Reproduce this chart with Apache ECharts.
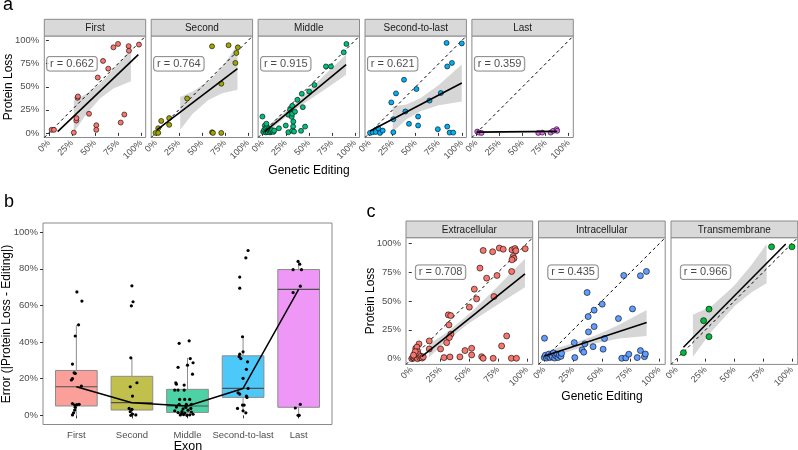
<!DOCTYPE html>
<html><head><meta charset="utf-8">
<script src="https://cdn.jsdelivr.net/npm/echarts@6/dist/echarts.min.js"></script>
<style>html,body{margin:0;padding:0;background:#fff}#c{width:798px;height:450px}</style>
</head><body><div id="c"></div>
<script>
// ---------------- DATA ----------------
const pctTicks = [0, 25, 50, 75, 100];
const errTicks = [0, 20, 40, 60, 80, 100];

// Panel a facets
const aNames = ['First', 'Second', 'Middle', 'Second-to-last', 'Last'];
const aColors = ['#F8766D', '#A3A500', '#00BF7D', '#00B0F6', '#E76BF3'];
const aR = ['r = 0.662', 'r = 0.764', 'r = 0.915', 'r = 0.621', 'r = 0.359'];

const firstPts = [[3,3.3],[5.5,3.3],[27,0.3],[29.7,13.4],[29.9,16],[31,38],[31.5,39.5],[43.5,20.7],[51.4,8.3],[51.4,3.3],[53,60],[58.7,78],[64.4,69.6],[70,92.7],[75,96.4],[77.9,11.2],[81.8,19.9],[86.5,94],[86.8,89],[97.7,95.7]];
const firstFit = [[9.5,1.4],[97,84.8]];
const firstBand = [[27,0.6,35],[40,19.5,42],[55,37,53],[70,48,69],[89,56,90]];

const secondPts = [[-0.3,0],[2.6,0],[2.6,5],[5.9,13],[14.5,16],[14.5,8.7],[34,37.3],[61,93.8],[61,0.7],[62,0],[71,53.3],[71,0],[78.9,95],[86.3,75.8],[87.4,86.6],[89,92.7]];
const secondFit = [[1.2,3.3],[88.6,69.6]];
const secondBand = [[26.5,3.3,38.8],[40,20.8,44.8],[57,35.7,55.7],[72,43,71],[88.6,46.7,95.6]];

const middlePts = [[-0.3,17.7],[0.5,1],[1.5,3],[2.3,8],[3,5],[3.5,0.5],[4.5,2],[5,6],[5.5,1],[6.5,4],[7,2.5],[8,0.5],[9,1.5],[10,3],[11.5,1],[12.5,2.5],[4,10],[17.6,5],[25,8],[27.8,0.7],[27.8,19.6],[29.6,25],[31.5,17.4],[32,20.7],[32,29.3],[32,2.3],[33,7],[33.2,12.3],[35,23],[34,1.4],[37.6,35.9],[41.6,2.2],[42.4,42.4],[43.5,27.9],[46,6.8],[50.4,44.9],[56,52],[68.6,72],[74,72],[87.9,87.3],[90.8,96.4]];
const middleFit = [[2.3,1.4],[90.5,73.9]];
const middleBand = [[5,0.1,7.1],[25,17.1,23.1],[45,32,41],[65,45.5,60.5],[90.5,62.9,84.9]];

const stlPts = [[0.4,0],[3.3,0.7],[6.6,1],[9.5,5],[11.3,0],[14.2,2.5],[25.7,0.7],[25.7,14.8],[23.5,33],[28.6,42.8],[37.3,57.6],[38.8,23.2],[42.7,9.8],[50.8,47.5],[52.6,17.7],[52.6,8],[65,35],[74,4],[77.3,43.2],[83.5,97.5],[84.2,72],[84.2,6.8],[86.8,0.3],[90.7,0.3],[89.3,75.8],[100,97]];
const stlFit = [[0.5,2],[100,54]];
const stlBand = [[25,1,28.6],[40,14.7,30.7],[55,23.5,37.5],[75,30,52],[100,34,74]];

const lastPts = [[0.8,1.4],[2.9,0.3],[5.5,0],[67,0],[71.3,0.3],[80.4,0.3],[83.2,2.2],[86.9,4],[87.5,2.2]];
const lastFit = [[0.3,0.8],[87.5,1.6]];
const lastBand = [];

// Panel b
const exonCats = ['First', 'Second', 'Middle', 'Second-to-last', 'Last'];
const boxFills = ['#FA9F99', '#C2C04C', '#4CD2A4', '#4CC8F9', '#EE97F7'];
// [min, Q1, median, Q3, max]
const boxStats = [[0.2,5.1,15.6,24.5,49.4],[0,2.9,6.9,21.3,31.4],[0,1.6,5.1,14.2,31.4],[1.4,9.8,14.7,32.5,43.4],[0,4.4,68.8,79.6,84]];
const bFirst = [[1.01,67.4],[1.10,62.4],[1.04,49.4],[0.98,43.3],[0.93,28],[0.96,23.2],[0.98,22.9],[0.93,20],[0.91,19.3],[1.09,16],[0.93,6.4],[0.97,5.6],[1.01,5.8],[1.05,6],[0.98,4.4],[0.97,2.9],[0.95,1.4],[0.93,0.2]];
const bSecond = [[2.0,70.7],[1.99,59.8],[2.02,62],[1.98,31.4],[2.09,17.8],[1.97,15.6],[2.01,10.5],[1.95,3.8],[2.0,3.3],[1.97,2],[2.01,0.7],[2.07,0.2],[1.98,0]];
const bMiddle = [[2.85,39.3],[3.03,40.7],[2.83,26.2],[3.0,27.4],[3.1,28.7],[3.09,22.5],[3.05,31],[2.79,17.8],[2.8,17],[2.94,16.5],[2.94,13.8],[2.77,13.8],[2.83,13.8],[2.86,8.7],[2.95,8.7],[3.04,8.7],[2.85,6],[2.98,6],[3.07,6],[2.77,2.5],[2.83,1.5],[2.89,0.8],[2.95,1.2],[3.01,2.8],[3.04,0.3],[3.07,1.8],[2.92,3.5],[2.99,0],[2.87,0.2],[2.97,4.3],[3.1,0.6],[2.8,4.5],[3.06,3.8],[2.9,2],[2.93,0.4]];
const bSTL = [[3.99,42.9],[3.94,33.4],[4.0,34.7],[3.93,32],[3.96,31],[4.08,29.2],[4.06,25.1],[4.0,20.2],[4.09,14.7],[3.91,12.3],[3.94,11.6],[4.06,10.5],[4.07,9.8],[3.99,5.6],[4.02,5.6],[3.9,3.8],[4.0,2.5],[4.05,1.4],[3.94,75.5],[3.94,69.4],[4.05,86],[4.09,90]];
const bLast = [[4.99,84],[5.02,82.5],[4.9,79.5],[5.05,79.5],[5.03,70.5],[4.9,67],[5.03,6],[4.94,4],[4.99,0],[5.01,0]];

// Panel c facets
const cNames = ['Extracellular', 'Intracellular', 'Transmembrane'];
const cColors = ['#F8766D', '#619CFF', '#00BA38'];
const cR = ['r = 0.708', 'r = 0.435', 'r = 0.966'];

const extraPts = [[62,93.9],[70.2,92.8],[76,96],[79.4,95],[87,94.5],[89.6,95.6],[90.4,93.7],[88,88.7],[88.7,87],[87,85.8],[98.5,95.4],[59.2,78.6],[65,69.9],[74,72.2],[86.7,75.7],[54.3,60.3],[56.3,51.9],[71.4,53.9],[50,44.7],[31.7,38],[33.8,37.4],[32.3,29.3],[34,21.2],[32.6,18.3],[30.3,13.9],[15.2,15.4],[15.2,8.4],[6.3,12.8],[25,8.4],[28,0.9],[33.2,1.5],[41.8,1.5],[46.2,7],[52,9],[52,3.2],[60.7,1.7],[62,0.3],[70.7,0.3],[78,11],[82.4,19.7],[86.5,0.3],[90.9,0.3],[0,0],[1,1],[2,0.5],[2.5,4],[3,1.5],[3.5,9],[4,2.5],[4.5,10],[5,6],[5,0],[6,3.5],[7,0.8],[8,2],[9,0.5],[10,1.5],[3,6],[1.5,3]];
const extraFit = [[8.6,1.7],[98.3,73.7]];
const extraBand = [[15,1,12.6],[30,15.4,22.4],[50,31,39],[70,44,58],[98.3,62,86.7]];

const intraPts = [[0.2,17.7],[0,1],[1,3],[2,0.5],[3,2],[4,4],[5,1],[6,3],[7,1.5],[8,5],[9,0.5],[10,2.5],[11,4],[12,1],[13,3],[14.5,2],[15,4.5],[26,13.9],[26.5,0.9],[32.9,7.6],[34.3,5.6],[35.2,12.8],[37.2,57.4],[38.1,36.5],[38.4,23.2],[42.4,10.4],[43.3,42.1],[43.3,27.8],[50.3,47.3],[51.1,8.2],[52.3,17.4],[64.4,34.8],[67.3,0.3],[70.8,0.6],[73.4,3.8],[76.6,43.2],[80.7,0.9],[83.5,7],[87,1.7],[87.8,4],[69,72.2],[83.5,72],[88.7,75.7]];
const intraFit = [[0.2,2.3],[88.9,31.3]];
const intraBand = [[5,0.4,7.4],[25,7.4,13.4],[45,13.4,20.4],[65,17.4,29.4],[88.9,19.7,42.3]];

const transPts = [[5.8,5.2],[23.3,33],[28,43],[28,19.1],[82.3,97.1],[100,97.1]];
const transFit = [[5.8,9.9],[94.6,99.5]];
const transBand = [[14,1.7,38],[30,23.3,45.3],[50,45.5,63.5],[65,57.6,81.6],[78,65.5,99.5]];

// ---------------- LAYOUT / STYLE ----------------
const FONT = '"Liberation Sans", Arial, Helvetica, sans-serif';
const TICK_COL = '#4d4d4d';
const BORDER = '#8a8a8a';
const aLefts = [44.3, 151.2, 258.1, 365.0, 471.9], aTop = 36, aW = 101.4, aH = 101.5;
const bBox = {left: 43, top: 223, width: 289, height: 201.5};
const cLefts = [406, 538.5, 671], cTop = 237.7, cW = 126.7, cH = 126.7;
const stripH = 16.7;

const aFacets = [
  {pts: firstPts, fit: firstFit, band: firstBand},
  {pts: secondPts, fit: secondFit, band: secondBand},
  {pts: middlePts, fit: middleFit, band: middleBand},
  {pts: stlPts, fit: stlFit, band: stlBand},
  {pts: lastPts, fit: lastFit, band: lastBand}
];
const cFacets = [
  {pts: extraPts, fit: extraFit, band: extraBand},
  {pts: intraPts, fit: intraFit, band: intraBand},
  {pts: transPts, fit: transFit, band: transBand}
];

const grids = [], xAxes = [], yAxes = [], series = [], graphics = [];

function pctAxisX(gi, fs) {
  return {type: 'value', gridIndex: gi, min: -5, max: 105,
    axisLine: {show: false}, splitLine: {show: false},
    axisTick: {show: true, customValues: pctTicks, length: 3, lineStyle: {color: '#333', width: 1}},
    axisLabel: {show: true, customValues: pctTicks, rotate: 45, margin: 4, fontSize: fs, color: TICK_COL, fontFamily: FONT, formatter: v => v + '%'}};
}
function pctAxisY(gi, show, fs) {
  return {type: 'value', gridIndex: gi, min: -5, max: 105,
    axisLine: {show: false}, splitLine: {show: false},
    axisTick: {show: show, customValues: pctTicks, length: 3, lineStyle: {color: '#333', width: 1}},
    axisLabel: {show: show, customValues: pctTicks, margin: 5, fontSize: fs, color: TICK_COL, fontFamily: FONT, formatter: v => v + '%'}};
}

function addFacet(gi, f, color, rText, symSize, fs) {
  if (f.band.length) {
    const band = f.band;
    series.push({type: 'custom', xAxisIndex: gi, yAxisIndex: gi, silent: true, z: 1,
      data: band, encode: {x: 0, y: [1, 2]},
      renderItem: (params, api) => {
        if (params.dataIndex !== 0) return null;
        const top = band.map(d => api.coord([d[0], d[2]]));
        const bot = band.map(d => api.coord([d[0], d[1]])).reverse();
        return {type: 'polygon', shape: {points: top.concat(bot)}, style: {fill: 'rgba(153,153,153,0.4)'}};
      }});
  }
  series.push({type: 'line', xAxisIndex: gi, yAxisIndex: gi, silent: true, z: 2,
    data: [[-5, -5], [105, 105]], symbol: 'none',
    lineStyle: {color: '#000', width: 1, type: [3, 3]}});
  series.push({type: 'scatter', xAxisIndex: gi, yAxisIndex: gi, silent: true, z: 3,
    data: f.pts, symbolSize: symSize,
    itemStyle: {color: color, borderColor: '#000', borderWidth: 0.6, opacity: 1}});
  series.push({type: 'line', xAxisIndex: gi, yAxisIndex: gi, silent: true, z: 4,
    data: f.fit, symbol: 'none', lineStyle: {color: '#000', width: 1.6}});
  series.push({type: 'scatter', xAxisIndex: gi, yAxisIndex: gi, silent: true, z: 5,
    data: [[25, 75]], symbolSize: 1, itemStyle: {color: 'rgba(0,0,0,0)'},
    label: {show: true, position: 'inside', formatter: rText, color: '#1a1a1a', fontSize: fs,
      fontFamily: FONT, backgroundColor: '#fff', borderColor: '#555', borderWidth: 0.8,
      borderRadius: 3, padding: [2, 3, 1, 3]}});
}

function addStrip(left, top, width, text) {
  graphics.push({type: 'rect', shape: {x: left, y: top, width: width, height: stripH},
    style: {fill: '#d9d9d9', stroke: BORDER, lineWidth: 1}, z: 10});
  graphics.push({type: 'text', x: left + width / 2, y: top + stripH / 2 + 0.5, z: 11,
    style: {text: text, fill: '#1a1a1a', font: '10px ' + FONT, align: 'center', verticalAlign: 'middle'}});
}

aLefts.forEach((l, i) => {
  grids.push({left: l, top: aTop, width: aW, height: aH, show: true, borderColor: BORDER, borderWidth: 1, backgroundColor: 'transparent'});
  xAxes.push(pctAxisX(i, 9));
  yAxes.push(pctAxisY(i, i === 0, 9.5));
  addFacet(i, aFacets[i], aColors[i], aR[i], 5, 11);
  addStrip(l, aTop - stripH, aW, aNames[i]);
});

grids.push({left: bBox.left, top: bBox.top, width: bBox.width, height: bBox.height, show: true, borderColor: BORDER, borderWidth: 1, backgroundColor: 'transparent'});
xAxes.push({type: 'value', gridIndex: 5, min: 0.4, max: 5.6, axisLine: {show: false}, splitLine: {show: false},
  axisTick: {show: true, customValues: [1, 2, 3, 4, 5], length: 3, lineStyle: {color: '#333'}},
  axisLabel: {show: true, customValues: [1, 2, 3, 4, 5], margin: 6, fontSize: 9.5, color: TICK_COL, fontFamily: FONT,
    formatter: v => exonCats[Math.round(v) - 1]}});
yAxes.push({type: 'value', gridIndex: 5, min: -5, max: 105, axisLine: {show: false}, splitLine: {show: false},
  axisTick: {show: true, customValues: errTicks, length: 3, lineStyle: {color: '#333'}},
  axisLabel: {show: true, customValues: errTicks, margin: 5, fontSize: 9.5, color: TICK_COL, fontFamily: FONT, formatter: v => v + '%'}});

series.push({type: 'custom', xAxisIndex: 5, yAxisIndex: 5, silent: true, z: 2,
  data: boxStats.map((s, i) => [i + 1].concat(s)),
  encode: {x: 0, y: [1, 2, 3, 4, 5]},
  renderItem: (params, api) => {
    const x = api.value(0);
    const w = api.size([0.75, 0])[0];
    const pMin = api.coord([x, api.value(1)]), pQ1 = api.coord([x, api.value(2)]),
      pMed = api.coord([x, api.value(3)]), pQ3 = api.coord([x, api.value(4)]), pMax = api.coord([x, api.value(5)]);
    const stroke = {stroke: '#8c8c8c', lineWidth: 1};
    return {type: 'group', children: [
      {type: 'line', shape: {x1: pMin[0], y1: pMin[1], x2: pQ1[0], y2: pQ1[1]}, style: stroke},
      {type: 'line', shape: {x1: pQ3[0], y1: pQ3[1], x2: pMax[0], y2: pMax[1]}, style: stroke},
      {type: 'rect', shape: {x: pQ3[0] - w / 2, y: pQ3[1], width: w, height: pQ1[1] - pQ3[1]},
        style: {fill: boxFills[params.dataIndex], stroke: '#8c8c8c', lineWidth: 1}},
      {type: 'line', shape: {x1: pMed[0] - w / 2, y1: pMed[1], x2: pMed[0] + w / 2, y2: pMed[1]}, style: {stroke: '#505050', lineWidth: 1.2}}
    ]};
  }});
[bFirst, bSecond, bMiddle, bSTL, bLast].forEach(arr => {
  series.push({type: 'scatter', xAxisIndex: 5, yAxisIndex: 5, silent: true, z: 3, data: arr, symbolSize: 3.2,
    itemStyle: {color: '#000', opacity: 1}});
});
series.push({type: 'line', xAxisIndex: 5, yAxisIndex: 5, silent: true, z: 4,
  data: boxStats.map((s, i) => [i + 1, s[2]]), symbol: 'none', lineStyle: {color: '#000', width: 1.5}});

cLefts.forEach((l, i) => {
  const gi = 6 + i;
  grids.push({left: l, top: cTop, width: cW, height: cH, show: true, borderColor: BORDER, borderWidth: 1, backgroundColor: 'transparent'});
  xAxes.push(pctAxisX(gi, 9));
  yAxes.push(pctAxisY(gi, i === 0, 9.5));
  addFacet(gi, cFacets[i], cColors[i], cR[i], 6, 11);
  addStrip(l, cTop - stripH, cW, cNames[i]);
});

function txt(x, y, s, size, rot, color) {
  graphics.push({type: 'text', x: x, y: y, rotation: rot || 0, z: 12,
    style: {text: s, fill: color || '#000', font: size + 'px ' + FONT, align: 'center', verticalAlign: 'middle'}});
}
txt(9, 87, 'Protein Loss', 12, Math.PI / 2);
txt(309, 171, 'Genetic Editing', 12);
txt(8, 5, 'a', 18);
txt(9, 202, 'b', 18);
txt(7, 324, 'Error (|Protein Loss - Editing|)', 12, Math.PI / 2);
txt(188, 447, 'Exon', 12.5);
txt(371, 212, 'c', 18);
txt(371, 301, 'Protein Loss', 12, Math.PI / 2);
txt(602, 396.5, 'Genetic Editing', 12);

const chart = echarts.init(document.getElementById('c'), null, {renderer: 'canvas'});
chart.setOption({
  animation: false,
  backgroundColor: '#fff',
  textStyle: {fontFamily: FONT},
  grid: grids, xAxis: xAxes, yAxis: yAxes, series: series, graphic: graphics
});
</script></body></html>
